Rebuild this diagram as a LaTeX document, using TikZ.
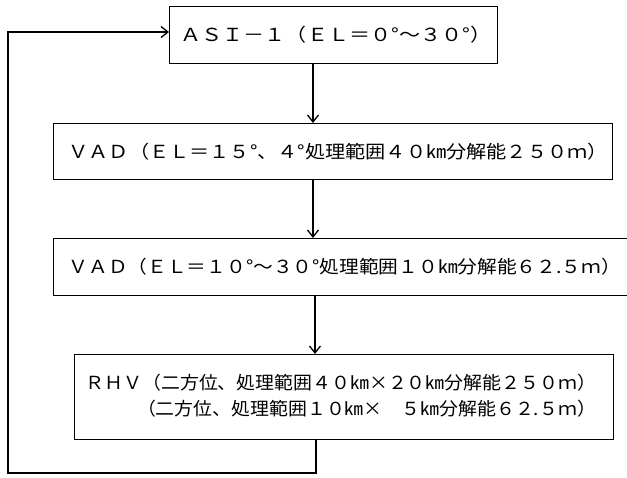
\documentclass[tikz,border=0pt]{standalone}
\usepackage{fontspec}
\newfontfamily\jp{Noto Sans CJK JP}
\usetikzlibrary{arrows.meta}
\begin{document}
\begin{tikzpicture}[x=1pt,y=-1pt,
  box/.style={draw, line width=1.3pt, anchor=north west, inner ysep=0pt,
    font=\jp\fontsize{18}{25}\selectfont, align=left},
  link/.style={line width=1.1pt, -{Straight Barb[length=7pt,width=11pt,line width=1.3pt]}}]
\clip (0,0) rectangle (627,477);
\node[box, inner xsep=11pt, minimum width=328pt, minimum height=57pt, text width=306pt] (b1) at (169,6)
  {\scalebox{1.17}[1]{ＡＳＩ－１（ＥＬ＝０°～３０°）}};
\node[box, inner xsep=15pt, minimum width=559pt, minimum height=56pt, text width=529pt] (b2) at (53,123)
  {\scalebox{1.12}[1]{ＶＡＤ（ＥＬ＝１５°、４°処理範囲４０㎞分解能２５０ｍ）}};
\node[box, inner xsep=15pt, minimum width=577pt, minimum height=57pt, text width=547pt] (b3) at (53,238)
  {\scalebox{1.095}[1]{ＶＡＤ（ＥＬ＝１０°～３０°処理範囲１０㎞分解能６２.５ｍ）}};
\node[box, inner xsep=11pt, minimum width=539pt, minimum height=85pt, text width=517pt] (b4) at (74,354)
  {\scalebox{1.05}[1]{\begin{tabular}{@{}r@{}}ＲＨＶ（二方位、処理範囲４０㎞×２０㎞分解能２５０ｍ）\\[1pt]
   （二方位、処理範囲１０㎞×　５㎞分解能６２.５ｍ）\end{tabular}}};
\coordinate (c1) at (316,473);
\coordinate (c2) at (8,473);
\coordinate (c3) at (8,32);
\draw[link] (313,0 |- b1.south) -- (313,0 |- b2.north);
\draw[link] (313,0 |- b2.south) -- (313,0 |- b3.north);
\draw[link] (315,0 |- b3.south) -- (315,0 |- b4.north);
\draw[link] (316,0 |- b4.south) -- (c1) -- (c2) -- (c3) -- (c3 -| b1.west);
\end{tikzpicture}
\end{document}
